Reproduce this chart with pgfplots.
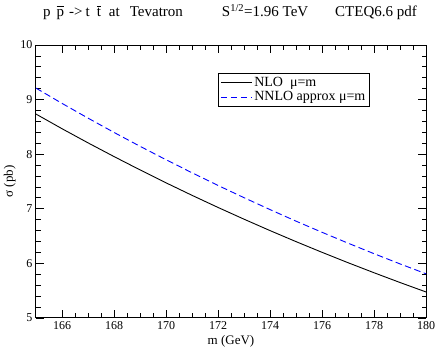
\documentclass[border=0pt]{standalone}
\usepackage{fontspec}
\setmainfont{Liberation Serif}
\usepackage{pgfplots}
\pgfplotsset{compat=1.18}

\newcommand{\ovl}[1]{\ensuremath{\overline{\mbox{#1}\vphantom{T}}}}

\begin{document}
\begin{tikzpicture}
\useasboundingbox (-36pt,-32pt) rectangle (400pt,318pt);
\begin{axis}[
  scale only axis,
  width=390pt, height=273pt,
  xmin=165, xmax=180, ymin=5, ymax=10,
  xtick={166,168,...,180}, ytick={5,6,...,10},
  minor x tick num=3, minor y tick num=4,
  tick pos=both, tick align=inside,
  major tick length=8pt, minor tick length=4.5pt,
  axis line style={line width=1pt},
  every tick/.style={black, line width=0.8pt},
  tick label style={font=\fontsize{12}{14}\selectfont},
  /pgf/number format/assume math mode=true,
  xlabel={m (GeV)}, ylabel={σ (pb)},
  label style={font=\fontsize{13}{15}\selectfont},
  xlabel style={at={(axis description cs:0.5,0)}, anchor=center, yshift=-23pt},
  ylabel style={at={(axis description cs:-0.067,0.5)}, anchor=center},
  legend style={at={(axis description cs:0.467,0.897)}, anchor=north west,
    draw=black, line width=0.6pt, font=\fontsize{14}{15}\selectfont,
    inner sep=2pt, row sep=-0.5pt},
  legend cell align=left,
  legend image code/.code={\draw[#1] (0pt,0pt) -- (31pt,0pt);},
]
\addplot[black, line width=0.9pt] coordinates {
  (165,8.735) (166,8.467) (167,8.208) (168,7.957) (169,7.713) (170,7.476)
  (171,7.247) (172,7.025) (173,6.810) (174,6.601) (175,6.399) (176,6.203)
  (177,6.013) (178,5.829) (179,5.650) (180,5.477)};
\addlegendentry{NLO\ \ μ=m}
\addplot[blue, line width=0.9pt, dash pattern=on 6.5pt off 3.5pt] coordinates {
  (165,9.210) (166,8.931) (167,8.661) (168,8.399) (169,8.145) (170,7.899)
  (171,7.660) (172,7.428) (173,7.204) (174,6.986) (175,6.774) (176,6.570)
  (177,6.371) (178,6.178) (179,5.991) (180,5.810)};
\addlegendentry{NNLO approx μ=m}
\end{axis}
\node[anchor=base west, inner sep=0pt, font=\fontsize{15}{16}\selectfont] at (7pt,301pt)
  {p\hspace{6pt}\ovl{p}\hspace{5pt}->\hspace{3pt}t\hspace{7pt}\ovl{t}\hspace{8pt}at\hspace{10pt}Tevatron\hspace{39pt}S\textsuperscript{1/2}=1.96 TeV\hspace{27pt}CTEQ6.6 pdf};
\end{tikzpicture}
\end{document}
